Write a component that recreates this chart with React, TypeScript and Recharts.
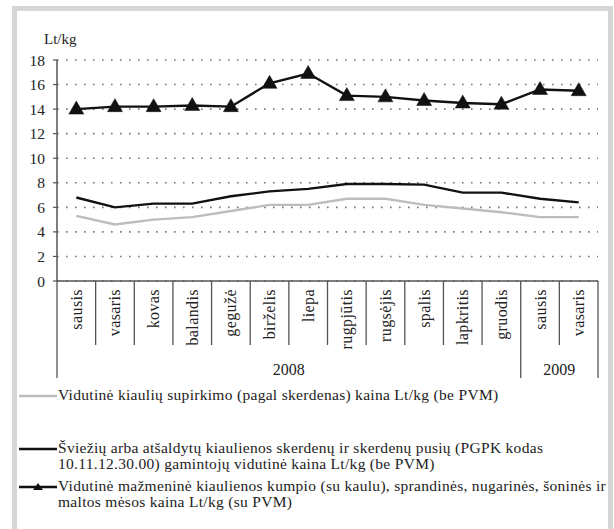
import { LineChart, Line, XAxis, YAxis, CartesianGrid } from 'recharts'

const months = ['sausis', 'vasaris', 'kovas', 'balandis', 'gegužė', 'birželis', 'liepa', 'rugpjūtis', 'rugsėjis', 'spalis', 'lapkritis', 'gruodis', 'sausis', 'vasaris']
const years = ['2008', '2009']
const yearSpans = [12, 2]

const purchase = [5.3, 4.6, 5.0, 5.2, 5.7, 6.2, 6.2, 6.7, 6.7, 6.2, 5.9, 5.6, 5.2, 5.2]
const producer = [6.8, 6.0, 6.3, 6.3, 6.9, 7.3, 7.5, 7.9, 7.9, 7.85, 7.2, 7.2, 6.7, 6.4]
const retail = [14.0, 14.2, 14.2, 14.3, 14.2, 16.1, 16.9, 15.1, 15.0, 14.7, 14.5, 14.4, 15.6, 15.5]

const yTicks = [0, 2, 4, 6, 8, 10, 12, 14, 16, 18]

const legendItems = [
  { kind: 'gray', lines: ['Vidutinė kiaulių supirkimo (pagal skerdenas) kaina Lt/kg (be PVM)'] },
  { kind: 'black', lines: ['Šviežių arba atšaldytų kiaulienos skerdenų ir skerdenų pusių (PGPK kodas', '10.11.12.30.00) gamintojų vidutinė kaina Lt/kg (be PVM)'] },
  { kind: 'triangle', lines: ['Vidutinė mažmeninė kiaulienos kumpio (su kaulu), sprandinės, nugarinės, šoninės ir', 'maltos mėsos kaina Lt/kg (su PVM)'] },
]

const data = months.map((m, i) => ({
  key: `${i < 12 ? years[0] : years[1]}-${m}-${i}`,
  purchase: purchase[i],
  producer: producer[i],
  retail: retail[i],
}))

const FONT = '"Liberation Serif", "Times New Roman", serif'
const W = 614
const H = 529
const MARGIN = { top: 60, right: 16, left: 0, bottom: 148 }
const Y_AXIS_W = 57
const BAND = (W - MARGIN.left - MARGIN.right - Y_AXIS_W) / months.length
const AXIS_GRAY = '#555'
const TEXT = '#222'

// year group boundaries (index where each group starts)
const groupStarts = yearSpans.map((_, i) => yearSpans.slice(0, i).reduce((a, b) => a + b, 0))

function MonthTick(props: any) {
  const { x, y, index, payload } = props
  const half = typeof payload?.offset === 'number' && payload.offset > 0 ? payload.offset : BAND / 2
  const left = x - half
  const isGroupStart = groupStarts.includes(index)
  const isLast = index === months.length - 1
  const els: any[] = []
  els.push(<line key="l" x1={left} x2={left} y1={y} y2={y + (isGroupStart ? 97 : 64)} stroke={AXIS_GRAY} strokeWidth={1.3} />)
  if (isLast) {
    els.push(<line key="r" x1={x + half} x2={x + half} y1={y} y2={y + 97} stroke={AXIS_GRAY} strokeWidth={1.3} />)
  }
  els.push(
    <text key="t" x={0} y={0} transform={`translate(${x},${y + 8}) rotate(-90)`} textAnchor="end" dominantBaseline="central"
      fontFamily={FONT} fontSize={16} letterSpacing={0.4} fill={TEXT}>{months[index]}</text>
  )
  // year label centred under its group
  yearSpans.forEach((span, g) => {
    const mid = groupStarts[g] + span / 2
    let cx: number | null = null
    if (Number.isInteger(mid) && index === mid) cx = left
    else if (!Number.isInteger(mid) && index === Math.floor(mid)) cx = x
    if (cx != null) {
      els.push(<text key={'y' + g} x={cx} y={y + 88} textAnchor="middle" dominantBaseline="central" fontFamily={FONT} fontSize={16} fill={TEXT}>{years[g]}</text>)
    }
  })
  return <g>{els}</g>
}

function TriangleDot(props: any) {
  const { cx, cy, index } = props
  if (cx == null || cy == null) return <g key={index} />
  return <polygon key={index} points={`${cx},${cy - 8} ${cx - 7.5},${cy + 5} ${cx + 7.5},${cy + 5}`} fill="#111" stroke="#111" strokeWidth={0.5} />
}

function Swatch({ kind }: { kind: string }) {
  return (
    <svg width={38} height={10} style={{ position: 'absolute', left: -39, top: 4 }}>
      <line x1={0} x2={38} y1={5} y2={5} stroke={kind === 'gray' ? '#bdbdbd' : '#111'} strokeWidth={2.5} />
      {kind === 'triangle' && <polygon points="19,1 14,8 24,8" fill="#111" />}
    </svg>
  )
}

const legendTops = [387, 440, 478]

export default function App() {
  return (
    <div style={{ position: 'absolute', left: 0, top: 0, width: W, height: H, overflow: 'hidden', background: '#fff' }}>
      <div style={{ position: 'absolute', left: 12, top: 6, width: 591, height: 560, border: '5px solid #d6d6d6' }} />
      <div style={{ position: 'absolute', left: 0, top: 0 }}>
        <LineChart width={W} height={H} data={data} margin={MARGIN}>
          <CartesianGrid vertical={false} stroke="#777" strokeWidth={1.6} strokeDasharray="1.6 7.4" />
          <XAxis dataKey="key" scale="band" tick={<MonthTick />} tickLine={false} tickSize={0} tickMargin={0} interval={0} height={100}
            axisLine={{ stroke: AXIS_GRAY, strokeWidth: 1.5 }} />
          <YAxis domain={[0, 18]} ticks={yTicks} width={Y_AXIS_W} tickSize={4} tickMargin={8}
            axisLine={{ stroke: AXIS_GRAY, strokeWidth: 1.5 }} tickLine={{ stroke: AXIS_GRAY, strokeWidth: 1.2 }}
            tick={{ fontFamily: FONT, fontSize: 15.5, fill: TEXT }}
            label={({ viewBox }: any) => (
              <text x={viewBox.x + 44} y={viewBox.y - 21} dominantBaseline="central" fontFamily={FONT} fontSize={15} fill={TEXT}>Lt/kg</text>
            )} />
          <Line dataKey="purchase" stroke="#bdbdbd" strokeWidth={2.4} dot={false} isAnimationActive={false} />
          <Line dataKey="producer" stroke="#111" strokeWidth={2.4} dot={false} isAnimationActive={false} />
          <Line dataKey="retail" stroke="#111" strokeWidth={2.4} dot={<TriangleDot />} isAnimationActive={false} />
        </LineChart>
      </div>
      {legendItems.map((item, i) => (
        <div key={i} style={{ position: 'absolute', left: 58, top: legendTops[i], fontFamily: FONT, fontSize: 15.5, letterSpacing: 0.3, lineHeight: '16px', color: TEXT, whiteSpace: 'nowrap' }}>
          <Swatch kind={item.kind} />
          {item.lines.map((l, j) => <div key={j}>{l}</div>)}
        </div>
      ))}
    </div>
  )
}
